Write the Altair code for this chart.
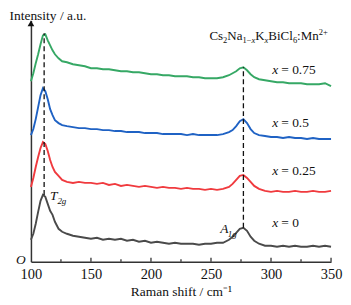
import altair as alt
import pandas as pd

# ---- data ----
shift = [100, 102, 104, 106, 108, 110, 112, 114, 116, 118, 120, 123, 126,
         130, 135, 140, 145, 150, 155, 160, 165, 170, 175, 180, 185, 190, 195,
         200, 205, 210, 215, 220, 225, 230, 235, 240, 245, 250, 255, 260, 265,
         268, 271, 274, 277, 280, 283, 286,
         290, 295, 300, 305, 310, 315, 320, 325, 330, 335, 340, 345, 350]

x0 = [22, 28, 38, 50, 61, 67, 65, 58, 51, 47, 40, 33, 30,
      28, 26, 25, 24, 23, 24, 22, 23, 22, 23, 21, 22, 20, 21,
      19, 20, 19, 18, 19, 18, 18, 18, 17, 18, 18, 19, 19, 22,
      25, 29, 33, 34, 31, 25, 21,
      18, 16, 16, 15, 16, 15, 16, 15, 15, 16, 15, 16, 15]

x025 = [75, 84, 95, 105, 114, 120, 118, 111, 102, 95, 90, 86, 82,
        80, 79, 80, 79, 79, 78, 79, 77, 78, 76, 77, 76, 75, 76,
        75, 74, 75, 74, 74, 73, 74, 73, 73, 72, 73, 72, 73, 75,
        78, 82, 86, 87, 84, 80, 76,
        73, 71, 70, 71, 70, 70, 71, 70, 70, 71, 70, 70, 71]

x05 = [127, 133, 143, 155, 167, 174, 171, 163, 153, 147, 142, 139, 137,
       136, 135, 134, 134, 133, 133, 132, 132, 131, 131, 130, 130, 130, 129,
       129, 129, 128, 128, 128, 128, 127, 128, 127, 127, 127, 127, 128, 130,
       132, 136, 141, 143, 139, 133, 129,
       127, 126, 125, 125, 124, 125, 124, 124, 123, 124, 123, 123, 123]

x075 = [181, 189, 199, 208, 218, 227, 228, 222, 217, 212, 208, 204, 201,
        200, 198, 197, 196, 194, 194, 193, 193, 192, 191, 191, 190, 190, 189,
        188, 188, 187, 187, 186, 186, 186, 185, 185, 184, 184, 184, 185, 187,
        189, 191, 194, 195, 192, 188, 185,
        183, 182, 181, 180, 180, 179, 179, 179, 178, 178, 178, 179, 176]

series_names = ["x = 0", "x = 0.25", "x = 0.5", "x = 0.75"]
series_colors = ["#4a4a4a", "#f03a3e", "#1f62c4", "#36a865"]
series_values = [x0, x025, x05, x075]

# label positions (data coords)
label_x = [301, 301, 301, 301]
label_y = [39, 91, 139, 192]

major_ticks = [150, 200, 250, 300, 350]
minor_ticks = [125, 175, 225, 275, 325]
tick_labels = [100, 150, 200, 250, 300, 350]

# dashed peak guides
guide_x = [111, 277]
guide_y1 = [67, 34]
guide_y2 = [229, 195]

# formula pieces: text, kind, italic, offset(px)
formula_parts = [
    ("Cs", "n", False, 0.0), ("2", "sub", False, 13.7), ("Na", "n", False, 17.95),
    ("1−", "sub", False, 33.1), ("x", "sub", True, 42.1), ("K", "n", False, 45.9),
    ("x", "sub", True, 55.3), ("BiCl", "n", False, 59.1), ("6", "sub", False, 83.7),
    (":Mn", "n", False, 87.95), ("2+", "sup", False, 109.6),
]
formula_x = 248.7
formula_y = 222

FONT = "Liberation Serif"
TXT = "#111111"

rows = []
for name, vals in zip(series_names, series_values):
    for s, v in zip(shift, vals):
        rows.append({"shift": s, "val": v, "series": name})
df = pd.DataFrame(rows)

xs = alt.Scale(domain=[100, 350], nice=False, zero=False)
ys = alt.Scale(domain=[0, 242], nice=False, zero=False)

lines = alt.Chart(df).mark_line(strokeWidth=1.9).encode(
    x=alt.X("shift:Q", scale=xs,
            axis=alt.Axis(values=tick_labels, title="Raman shift / cm⁻¹",
                          ticks=False, grid=False, labelPadding=6,
                          titlePadding=3, labelFlush=False,
                          domainColor="#333333", domainWidth=1.5,
                          labelFont=FONT, labelFontSize=14.5,
                          labelColor=TXT,
                          titleFont=FONT, titleFontSize=13.5,
                          titleFontWeight="normal", titleColor=TXT)),
    y=alt.Y("val:Q", scale=ys,
            axis=alt.Axis(labels=False, ticks=False, grid=False,
                          title="Intensity / a.u.", titleAngle=0,
                          titleAlign="left", titleBaseline="top",
                          titleX=-22, titleY=-12,
                          domainColor="#333333", domainWidth=1.5,
                          titleFont=FONT, titleFontSize=13.5,
                          titleFontWeight="normal", titleColor=TXT)),
    color=alt.Color("series:N",
                    scale=alt.Scale(domain=series_names, range=series_colors),
                    legend=None),
    detail="series:N",
)

guides = alt.Chart(pd.DataFrame({"x": guide_x, "y1": guide_y1, "y2": guide_y2})).mark_rule(
    color="#111111", strokeWidth=1.3, strokeDash=[5, 3]
).encode(x=alt.X("x:Q", scale=xs), y=alt.Y("y1:Q", scale=ys), y2="y2:Q")

maj = alt.Chart(pd.DataFrame({"t": major_ticks})).mark_rule(
    color="#333333", strokeWidth=1.3
).encode(x=alt.X("t:Q", scale=xs), y=alt.value(242), y2=alt.value(238))

mino = alt.Chart(pd.DataFrame({"t": minor_ticks})).mark_rule(
    color="#333333", strokeWidth=1.3
).encode(x=alt.X("t:Q", scale=xs), y=alt.value(242), y2=alt.value(239.5))

lab_df = pd.DataFrame({"x": label_x, "y": label_y,
                       "num": [n.split("= ")[1] for n in series_names]})
lab_x = alt.Chart(lab_df).mark_text(
    font=FONT, fontSize=13.5, fontStyle="italic", align="left",
    baseline="middle", color=TXT
).encode(x=alt.X("x:Q", scale=xs), y=alt.Y("y:Q", scale=ys), text=alt.value("x"))
lab_n = alt.Chart(lab_df).mark_text(
    font=FONT, fontSize=13.5, align="left", baseline="middle", dx=9,
    color=TXT
).encode(x=alt.X("x:Q", scale=xs), y=alt.Y("y:Q", scale=ys),
         text=alt.Text("eq:N")).transform_calculate(eq="'= ' + datum.num")

fdf = pd.DataFrame({"x": [formula_x], "y": [formula_y]})
formula_layers = []
for txt, kind, ital, off in formula_parts:
    size = 13 if kind == "n" else 8.5
    dy = 0 if kind == "n" else (3 if kind == "sub" else -5.5)
    kw = dict(font=FONT, fontSize=size, align="left", baseline="alphabetic",
              color=TXT, dx=off, dy=dy)
    if ital:
        kw["fontStyle"] = "italic"
    formula_layers.append(
        alt.Chart(fdf).mark_text(**kw).encode(
            x=alt.X("x:Q", scale=xs), y=alt.Y("y:Q", scale=ys),
            text=alt.value(txt))
    )

mode_df = pd.DataFrame({"x": [115.8, 257.8], "y": [65.5, 33],
                        "main": ["T", "A"], "sub": ["2g", "1g"]})
mode_main = alt.Chart(mode_df).mark_text(
    font=FONT, fontSize=13.5, fontStyle="italic", align="left",
    baseline="middle", color=TXT
).encode(x=alt.X("x:Q", scale=xs), y=alt.Y("y:Q", scale=ys), text="main:N")
mode_sub = alt.Chart(mode_df).mark_text(
    font=FONT, fontSize=9, fontStyle="italic", align="left",
    baseline="middle", dx=7.5, dy=5, color=TXT
).encode(x=alt.X("x:Q", scale=xs), y=alt.Y("y:Q", scale=ys), text="sub:N")

origin = alt.Chart(pd.DataFrame({"t": ["O"]})).mark_text(
    font=FONT, fontSize=13.5, fontStyle="italic", align="center",
    baseline="middle", color=TXT
).encode(x=alt.value(-10), y=alt.value(240.5), text="t:N")

arrow = alt.Chart(pd.DataFrame({"a": [0]})).mark_point(
    shape="triangle-up", filled=True, size=45, color="#111111", opacity=1
).encode(x=alt.value(0), y=alt.value(3))

chart = alt.layer(
    lines, guides, maj, mino, lab_x, lab_n, *formula_layers,
    mode_main, mode_sub, origin, arrow
).properties(
    width=301, height=242,
    autosize=alt.AutoSizeParams(type="none"),
    padding={"left": 23, "top": 12, "right": 12, "bottom": 40},
).configure_view(stroke=None)

chart.save("out.html", embed_options={"renderer": "svg", "actions": False})
